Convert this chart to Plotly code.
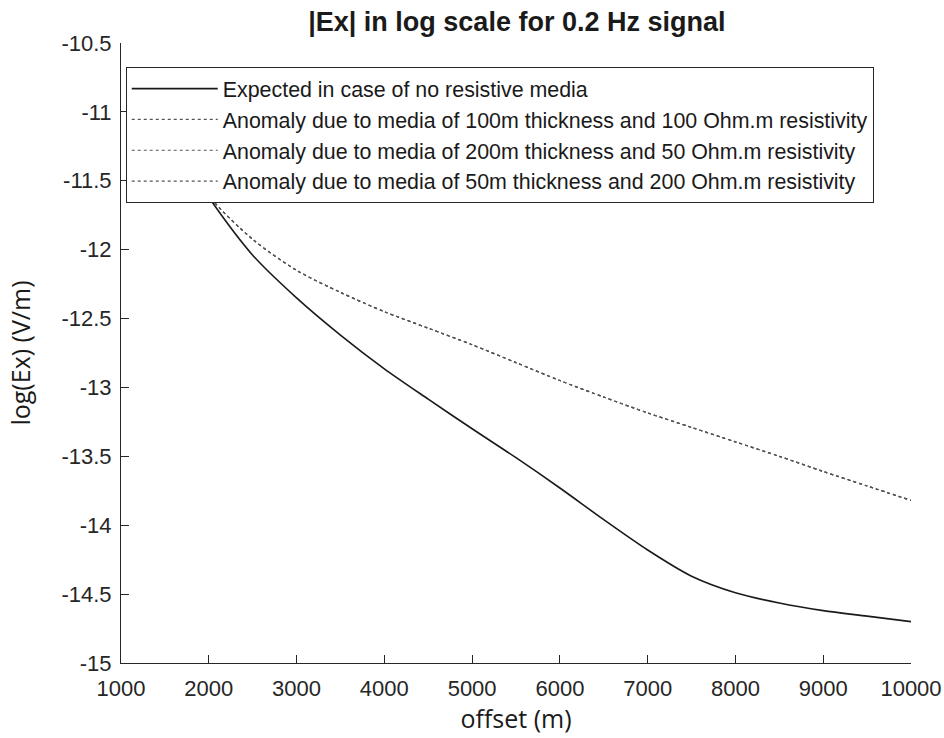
import plotly.graph_objects as go

# ---- data ----
offset = [1500, 2000, 2500, 3000, 3500, 4000, 4500, 5000, 5500, 6000,
          6500, 7000, 7500, 8000, 8500, 9000, 9500, 10000]
ex_expected = [-11.12, -11.62, -12.04, -12.35, -12.62, -12.865, -13.085, -13.30, -13.51,
               -13.73, -13.96, -14.18, -14.37, -14.49, -14.565, -14.62, -14.66, -14.70]
ex_anom_100m_100ohm = [-11.12, -11.61, -11.925, -12.15, -12.31, -12.45, -12.57, -12.69,
                       -12.82, -12.95, -13.07, -13.185, -13.29, -13.395, -13.50, -13.61,
                       -13.715, -13.82]
ex_anom_200m_50ohm = [-11.12, -11.61, -11.925, -12.15, -12.31, -12.45, -12.57, -12.69,
                      -12.82, -12.95, -13.07, -13.185, -13.29, -13.395, -13.50, -13.61,
                      -13.715, -13.82]
ex_anom_50m_200ohm = [-11.12, -11.61, -11.925, -12.15, -12.31, -12.45, -12.57, -12.69,
                      -12.82, -12.95, -13.07, -13.185, -13.29, -13.395, -13.50, -13.61,
                      -13.715, -13.82]

names = [
    "Expected in case of no resistive media",
    "Anomaly due to media of 100m thickness and 100 Ohm.m resistivity",
    "Anomaly due to media of 200m thickness and 50 Ohm.m resistivity",
    "Anomaly due to media of 50m thickness and 200 Ohm.m resistivity",
]

x_ticks = [1000, 2000, 3000, 4000, 5000, 6000, 7000, 8000, 9000, 10000]
y_ticks = [-15, -14.5, -14, -13.5, -13, -12.5, -12, -11.5, -11, -10.5]

fig = go.Figure()
fig.add_trace(go.Scatter(x=offset, y=ex_expected, mode="lines", name=names[0],
                         legendgroup="g0",
                         line=dict(color="#1a1a1a", width=1.6, shape="spline", smoothing=0.8)))
for i, ys in enumerate([ex_anom_100m_100ohm, ex_anom_200m_50ohm, ex_anom_50m_200ohm]):
    fig.add_trace(go.Scatter(x=offset, y=ys, mode="lines", name=names[i + 1],
                             legendgroup=f"g{i+1}",
                             line=dict(color="#555555", width=1.2, dash="dot",
                                       shape="spline", smoothing=0.8)))

tick_font = dict(family="Liberation Sans, Arial, sans-serif", size=22, color="#262626")
label_font = dict(family="Open Sans, sans-serif", size=25, color="#1a1a1a")

fig.update_layout(
    width=944, height=738,
    margin=dict(l=121, r=33, t=43, b=75),
    paper_bgcolor="white", plot_bgcolor="white",
    title=dict(text="<b>|Ex| in log scale for 0.2 Hz signal</b>",
               x=0.5475, xanchor="center", y=0.971, yanchor="middle",
               font=dict(family="Liberation Sans, Arial, sans-serif", size=27, color="#1a1a1a")),
    showlegend=True,
    legend=dict(x=0.006, y=0.961, xanchor="left", yanchor="top",
                bgcolor="white", bordercolor="#262626", borderwidth=1,
                font=dict(family="Liberation Sans, Arial, sans-serif", size=21.4, color="#1a1a1a"),
                itemwidth=86, tracegroupgap=0),
    xaxis=dict(range=[1000, 10000], tickvals=x_ticks, ticktext=[str(v) for v in x_ticks],
               automargin=False,
               showgrid=False, zeroline=False, showline=True, linecolor="#262626", linewidth=1,
               ticks="inside", ticklen=8, tickcolor="#262626", tickfont=tick_font,
               ticklabelstandoff=6,
               title=dict(text="offset (m)", font=label_font, standoff=4)),
    yaxis=dict(range=[-15, -10.5], tickvals=y_ticks,
               ticktext=[("%g" % v) for v in y_ticks],
               automargin=False,
               showgrid=False, zeroline=False, showline=True, linecolor="#262626", linewidth=1,
               ticks="inside", ticklen=8, tickcolor="#262626", tickfont=tick_font,
               ticklabelstandoff=4,
               title=dict(text="log(Ex) (V/m)", font=label_font, standoff=23)),
)

fig.write_html("out.html")
